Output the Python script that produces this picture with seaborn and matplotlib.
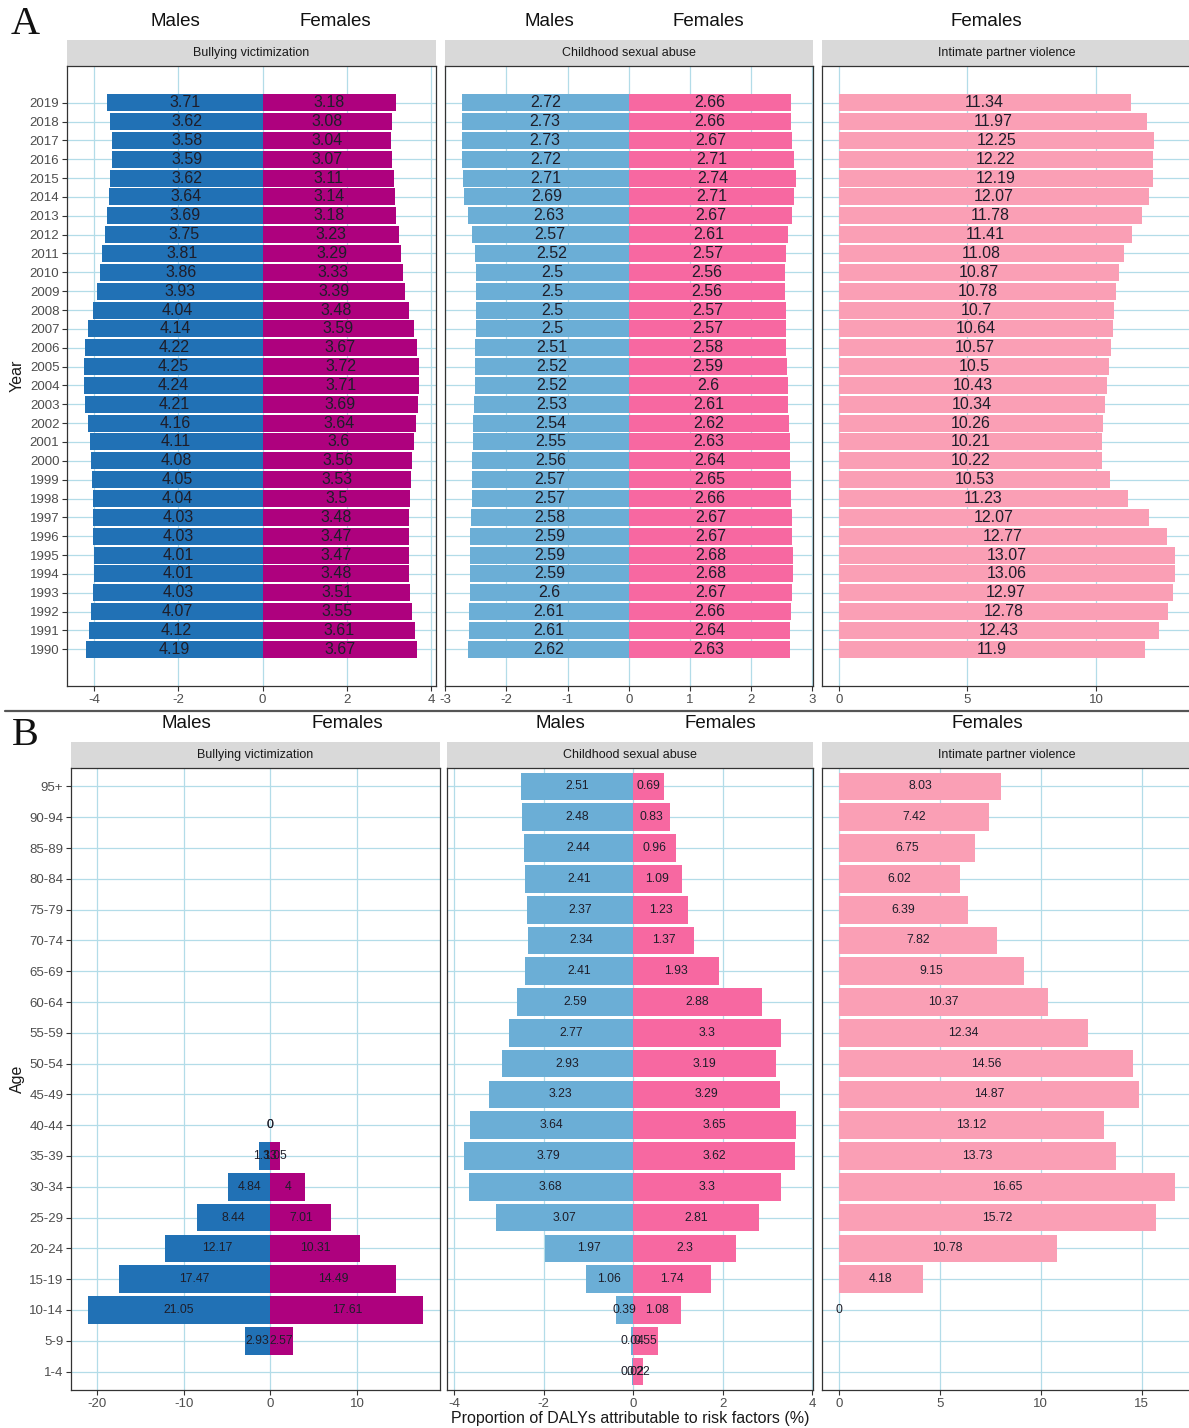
import numpy as np
import pandas as pd
import matplotlib
matplotlib.use("Agg")
import matplotlib.pyplot as plt
from matplotlib.ticker import MultipleLocator
import seaborn as sns

# ---------------- data: trends by year (1990 -> 2019) ----------------
years = list(range(1990, 2020))

bully_m_year = [4.19, 4.12, 4.07, 4.03, 4.01, 4.01, 4.03, 4.03, 4.04, 4.05,
                4.08, 4.11, 4.16, 4.21, 4.24, 4.25, 4.22, 4.14, 4.04, 3.93,
                3.86, 3.81, 3.75, 3.69, 3.64, 3.62, 3.59, 3.58, 3.62, 3.71]
bully_f_year = [3.67, 3.61, 3.55, 3.51, 3.48, 3.47, 3.47, 3.48, 3.50, 3.53,
                3.56, 3.60, 3.64, 3.69, 3.71, 3.72, 3.67, 3.59, 3.48, 3.39,
                3.33, 3.29, 3.23, 3.18, 3.14, 3.11, 3.07, 3.04, 3.08, 3.18]
csa_m_year = [2.62, 2.61, 2.61, 2.60, 2.59, 2.59, 2.59, 2.58, 2.57, 2.57,
              2.56, 2.55, 2.54, 2.53, 2.52, 2.52, 2.51, 2.50, 2.50, 2.50,
              2.50, 2.52, 2.57, 2.63, 2.69, 2.71, 2.72, 2.73, 2.73, 2.72]
csa_f_year = [2.63, 2.64, 2.66, 2.67, 2.68, 2.68, 2.67, 2.67, 2.66, 2.65,
              2.64, 2.63, 2.62, 2.61, 2.60, 2.59, 2.58, 2.57, 2.57, 2.56,
              2.56, 2.57, 2.61, 2.67, 2.71, 2.74, 2.71, 2.67, 2.66, 2.66]
ipv_f_year = [11.90, 12.43, 12.78, 12.97, 13.06, 13.07, 12.77, 12.07, 11.23, 10.53,
              10.22, 10.21, 10.26, 10.34, 10.43, 10.50, 10.57, 10.64, 10.70, 10.78,
              10.87, 11.08, 11.41, 11.78, 12.07, 12.19, 12.22, 12.25, 11.97, 11.34]

# ---------------- data: by age group (youngest -> oldest) ----------------
ages = ["1-4", "5-9", "10-14", "15-19", "20-24", "25-29", "30-34", "35-39",
        "40-44", "45-49", "50-54", "55-59", "60-64", "65-69", "70-74",
        "75-79", "80-84", "85-89", "90-94", "95+"]
nan = np.nan
bully_m_age = [nan, 2.93, 21.05, 17.47, 12.17, 8.44, 4.84, 1.33, 0,
               nan, nan, nan, nan, nan, nan, nan, nan, nan, nan, nan]
bully_f_age = [nan, 2.57, 17.61, 14.49, 10.31, 7.01, 4.00, 1.05, 0,
               nan, nan, nan, nan, nan, nan, nan, nan, nan, nan, nan]
csa_m_age = [0.02, 0.04, 0.39, 1.06, 1.97, 3.07, 3.68, 3.79, 3.64, 3.23,
             2.93, 2.77, 2.59, 2.41, 2.34, 2.37, 2.41, 2.44, 2.48, 2.51]
csa_f_age = [0.22, 0.55, 1.08, 1.74, 2.30, 2.81, 3.30, 3.62, 3.65, 3.29,
             3.19, 3.30, 2.88, 1.93, 1.37, 1.23, 1.09, 0.96, 0.83, 0.69]
ipv_f_age = [nan, nan, 0, 4.18, 10.78, 15.72, 16.65, 13.73, 13.12, 14.87,
             14.56, 12.34, 10.37, 9.15, 7.82, 6.39, 6.02, 6.75, 7.42, 8.03]

risks = ["Bullying victimization", "Childhood sexual abuse", "Intimate partner violence"]

# colours
BLUE_DARK, BLUE_LIGHT = "#2171B5", "#6BAED6"
MAGENTA, PINK, PINK_LIGHT = "#AE017E", "#F768A1", "#FA9FB5"
GRID = "#B3DCE8"
EDGE = "#333333"

sns.set_theme(style="white")
plt.rcParams["font.family"] = ["Liberation Sans", "DejaVu Sans"]
plt.rcParams["axes.unicode_minus"] = False

W, H = 1189, 1428
fig = plt.figure(figsize=(W / 100, H / 100), dpi=100)


def px_rect(x0, y0, x1, y1):
    return [x0 / W, 1 - y1 / H, (x1 - x0) / W, (y1 - y0) / H]


def fmt(v):
    return "{:g}".format(round(float(v), 2))


def strip(x0, x1, y0, y1, title):
    sax = fig.add_axes(px_rect(x0, y0, x1, y1))
    sax.set_facecolor("#D9D9D9")
    sax.set_xticks([])
    sax.set_yticks([])
    for s in sax.spines.values():
        s.set_visible(False)
    sax.text(0.5, 0.5, title, ha="center", va="center", fontsize=9,
             color="#1A1A1A", transform=sax.transAxes)


def pyramid(box, cats, male, female, mcol, fcol, step, numeric, lab_size,
            show_y, title, strip_h=26):
    x0, y0, x1, y1 = box
    strip(x0, x1, y0 - strip_h, y0, title)
    ax = fig.add_axes(px_rect(*box))
    order = None if numeric else list(cats[::-1])

    frames = []
    if male is not None:
        frames.append(pd.DataFrame({"cat": cats, "value": -np.asarray(male, float),
                                    "sex": "Males"}))
    frames.append(pd.DataFrame({"cat": cats, "value": np.asarray(female, float),
                                "sex": "Females"}))
    df = pd.concat(frames, ignore_index=True).dropna(subset=["value"])

    for sex, col in (("Males", mcol), ("Females", fcol)):
        sub = df[df["sex"] == sex]
        if sub.empty:
            continue
        sns.barplot(data=sub, x="value", y="cat", orient="h", color=col,
                    saturation=1, width=0.9, errorbar=None, linewidth=0,
                    native_scale=numeric, order=order, ax=ax)

    # value labels at the middle of each half-bar
    for _, r in df.iterrows():
        ypos = r["cat"] if numeric else order.index(r["cat"])
        ax.text(r["value"] / 2, ypos, fmt(abs(r["value"])), ha="center",
                va="center", fontsize=lab_size, color="#1E1E2A", zorder=5)

    # limits with 5% expansion like ggplot
    lo = min(0.0, np.nanmin(df["value"]))
    hi = max(0.0, np.nanmax(df["value"]))
    pad = 0.05 * (hi - lo)
    ax.set_xlim(lo - pad, hi + pad)
    if numeric:
        ylo, yhi = min(cats) - 0.45, max(cats) + 0.45
        ypad = 0.05 * (yhi - ylo)
        ax.set_ylim(ylo - ypad, yhi + ypad)
        ax.set_yticks(cats)
        ax.set_yticklabels([str(c) for c in cats] if show_y else [])
    else:
        n = len(cats)
        ax.set_ylim(n - 1 + 0.6, -0.6)
        ax.set_yticks(range(n))
        ax.set_yticklabels(order if show_y else [])

    ax.xaxis.set_major_locator(MultipleLocator(step))
    ax.set_xlabel("")
    ax.set_ylabel("")
    ax.set_axisbelow(True)
    ax.grid(True, color=GRID, linewidth=0.9)
    ax.set_facecolor("white")
    for s in ax.spines.values():
        s.set_color(EDGE)
        s.set_linewidth(0.9)
    ax.tick_params(axis="both", direction="out", length=3.5, width=0.8,
                   color=EDGE, labelcolor="#4D4D4D", labelsize=9.5, pad=2,
                   bottom=True, left=show_y)
    return ax


# ---------------- panel A: by year ----------------
ya0, ya1 = 66, 686
axA = pyramid((67, ya0, 436, ya1), years, bully_m_year, bully_f_year,
              BLUE_DARK, MAGENTA, 2, True, 11.5, True, risks[0])
axA.set_ylabel("Year", fontsize=11.5, color="#1A1A1A")
axA.yaxis.set_label_coords(-0.115, 0.5)
pyramid((445, ya0, 813, ya1), years, csa_m_year, csa_f_year,
        BLUE_LIGHT, PINK, 1, True, 11.5, False, risks[1])
pyramid((822, ya0, 1192, ya1), years, None, ipv_f_year,
        None, PINK_LIGHT, 5, True, 11.5, False, risks[2])

# ---------------- panel B: by age ----------------
yb0, yb1 = 768, 1390
axB = pyramid((71, yb0, 440, yb1), ages, bully_m_age, bully_f_age,
              BLUE_DARK, MAGENTA, 10, False, 8.8, True, risks[0])
axB.set_ylabel("Age", fontsize=11.5, color="#1A1A1A")
axB.yaxis.set_label_coords(-0.125, 0.5)
pyramid((447, yb0, 813, yb1), ages, csa_m_age, csa_f_age,
        BLUE_LIGHT, PINK, 2, False, 8.8, False, risks[1])
pyramid((822, yb0, 1192, yb1), ages, None, ipv_f_age,
        None, PINK_LIGHT, 5, False, 8.8, False, risks[2])

# ---------------- headers, panel letters, divider ----------------
def ftext(x, y, s, **kw):
    fig.text(x / W, 1 - y / H, s, **kw)

for x, s in ((175, "Males"), (335, "Females"), (549, "Males"),
             (708, "Females"), (986, "Females")):
    ftext(x, 22, s, ha="center", va="center", fontsize=13.5, color="#111111")
for x, s in ((186, "Males"), (347, "Females"), (560, "Males"),
             (720, "Females"), (987, "Females")):
    ftext(x, 724, s, ha="center", va="center", fontsize=13.5, color="#111111")

ftext(25, 24, "A", ha="center", va="center", fontsize=29,
      family=["Liberation Serif", "DejaVu Serif"], color="#111111")
ftext(25, 736, "B", ha="center", va="center", fontsize=29,
      family=["Liberation Serif", "DejaVu Serif"], color="#111111")

fig.add_artist(plt.Line2D([5 / W, 1.0], [1 - 711 / H, 1 - 711 / H],
                          transform=fig.transFigure, color="#555555", lw=1.6))

ftext(630, 1418, "Proportion of DALYs attributable to risk factors (%)",
      ha="center", va="center", fontsize=11.5, color="#1A1A1A")

fig.savefig("out.png", dpi=100)
